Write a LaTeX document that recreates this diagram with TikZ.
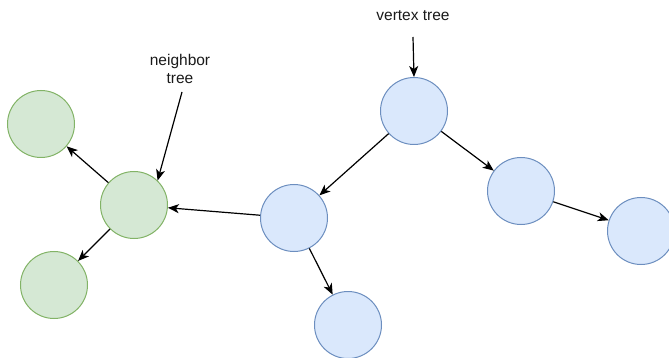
\documentclass[tikz,border=0pt]{standalone}
\usepackage{fontspec}
\setmainfont{Liberation Sans}
\usetikzlibrary{arrows.meta}
\definecolor{bluefill}{HTML}{DAE8FC}
\definecolor{bluedraw}{HTML}{6C8EBF}
\definecolor{greenfill}{HTML}{D5E8D4}
\definecolor{greendraw}{HTML}{82B366}
\definecolor{txt}{HTML}{1A1A1A}
\tikzset{
  vnode/.style={circle, minimum size=67pt, inner sep=0pt, line width=1pt, draw=bluedraw, fill=bluefill},
  gnode/.style={circle, minimum size=67pt, inner sep=0pt, line width=1pt, draw=greendraw, fill=greenfill},
  conn/.style={line width=1.2pt, draw=black, -{Stealth[length=11pt,width=9pt,inset=3pt]}},
  lbl/.style={font=\fontsize{15.5}{18}\selectfont, text=txt, align=center, inner sep=0pt}
}
\begin{document}
\begin{tikzpicture}[x=1pt,y=-1pt]
\useasboundingbox (0,0) rectangle (669,358);
\clip (0,0) rectangle (669,358);
% green nodes
\node[gnode] (g1) at (41,124) {};
\node[gnode] (g2) at (134,205) {};
\node[gnode] (g3) at (54,285) {};
% blue nodes
\node[vnode] (b1) at (414,111) {};
\node[vnode] (b2) at (294,218) {};
\node[vnode] (b3) at (521,191) {};
\node[vnode] (b4) at (641,231) {};
\node[vnode] (b5) at (348,325) {};
% labels
\node[lbl] (vt) at (413,16) {vertex tree};
\node[lbl] (nt) at (180,69) {neighbor\\tree};
\coordinate (vtstart) at (413,37);
\coordinate (ntstart) at (182,92);
% connectors
\draw[conn] (vtstart) -- (b1.north);
\draw[conn] (ntstart) -- (g2.46);
\draw[conn] (b1) -- (b2);
\draw[conn] (b1) -- (b3);
\draw[conn] (b3) -- (b4);
\draw[conn] (b2) -- (b5);
\draw[conn] (b2) -- (g2);
\draw[conn] (g2) -- (g1);
\draw[conn] (g2) -- (g3);
\end{tikzpicture}
\end{document}
